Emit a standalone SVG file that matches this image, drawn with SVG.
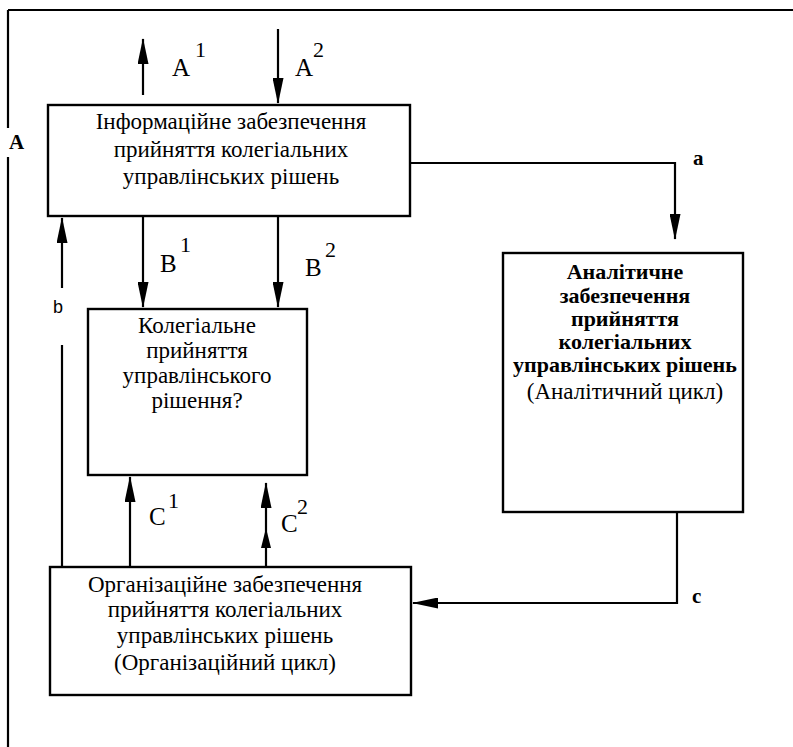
<svg xmlns="http://www.w3.org/2000/svg" width="793" height="747" viewBox="0 0 793 747">
<style>
.box{fill:#fff;stroke:#000;stroke-width:2.4}
.ln{fill:none;stroke:#000;stroke-width:2.2}
.t{font-family:"Liberation Serif","Times New Roman",serif;font-size:23px;fill:#000;text-anchor:middle}
.tb{font-family:"Liberation Serif","Times New Roman",serif;font-size:22px;font-weight:bold;fill:#000;text-anchor:middle}
.lab{font-family:"Liberation Serif","Times New Roman",serif;font-size:25px;fill:#000}
.sup{font-family:"Liberation Serif","Times New Roman",serif;font-size:22px;fill:#000}
.bl{font-family:"Liberation Serif","Times New Roman",serif;font-size:21px;font-weight:bold;fill:#000}
.sl{font-family:"Liberation Sans",Arial,sans-serif;font-size:18px;fill:#000}
</style>
<defs>
<marker id="arr" viewBox="0 0 26 11" refX="25" refY="5.5" markerWidth="26" markerHeight="11" markerUnits="userSpaceOnUse" orient="auto">
<path d="M0,0 L26,5.5 L0,11 Z" fill="#000"/>
</marker>
</defs>
<g id="frame">
<path class="ln" d="M8,10 H793 M8,10 V128 M8,157 V747"/>
<text class="bl" x="9" y="149" font-size="18">A</text>
</g>
<g id="connectors">
<line class="ln" x1="143" y1="95" x2="143" y2="39" marker-end="url(#arr)"/>
<line class="ln" x1="278" y1="29" x2="278" y2="103" marker-end="url(#arr)"/>
<line class="ln" x1="143" y1="216" x2="143" y2="307" marker-end="url(#arr)"/>
<line class="ln" x1="278" y1="216" x2="278" y2="307" marker-end="url(#arr)"/>
<line class="ln" x1="62" y1="288" x2="62" y2="218" marker-end="url(#arr)"/>
<line class="ln" x1="62" y1="345" x2="62" y2="567"/>
<line class="ln" x1="130" y1="567" x2="130" y2="477" marker-end="url(#arr)"/>
<line class="ln" x1="266" y1="567" x2="266" y2="483" marker-end="url(#arr)"/>
<path d="M266,528 L271,548 L261,548 Z" fill="#000"/>
<path class="ln" d="M410,163 H675 V239" marker-end="url(#arr)"/>
<path class="ln" d="M677,512 V603 H413" marker-end="url(#arr)"/>
<text class="lab" x="172" y="76">A</text><text class="sup" x="195" y="57">1</text>
<text class="lab" x="295" y="76">A</text><text class="sup" x="313" y="57">2</text>
<text class="lab" x="160" y="272">B</text><text class="sup" x="180" y="252">1</text>
<text class="lab" x="305" y="276">B</text><text class="sup" x="325" y="257">2</text>
<text class="lab" x="149" y="525">C</text><text class="sup" x="168" y="508">1</text>
<text class="lab" x="281" y="532">C</text><text class="sup" x="297" y="514">2</text>
<text class="sl" x="53" y="313">b</text>
<text class="bl" x="693" y="165">a</text>
<text class="bl" x="692" y="603">c</text>
</g>
<g id="info">
<rect class="box" x="48" y="105" width="362" height="111"/>
<text class="t" x="231" y="129">Інформаційне забезпечення</text>
<text class="t" x="231" y="157">прийняття колегіальних</text>
<text class="t" x="231" y="184">управлінських рішень</text>
</g>
<g id="collegial">
<rect class="box" x="88" y="309" width="219" height="166"/>
<text class="t" x="197" y="333">Колегіальне</text>
<text class="t" x="197" y="358">прийняття</text>
<text class="t" x="197" y="383">управлінського</text>
<text class="t" x="197" y="408">рішення?</text>
</g>
<g id="analytic">
<rect class="box" x="503" y="253" width="240" height="259"/>
<text class="tb" x="625" y="279">Аналітичне</text>
<text class="tb" x="625" y="303">забезпечення</text>
<text class="tb" x="625" y="326">прийняття</text>
<text class="tb" x="625" y="349">колегіальних</text>
<text class="tb" x="625" y="372">управлінських рішень</text>
<text class="t" x="625" y="399" font-size="20">(Аналітичний цикл)</text>
</g>
<g id="org">
<rect class="box" x="50" y="567" width="361" height="128"/>
<text class="t" x="225" y="592">Організаційне забезпечення</text>
<text class="t" x="225" y="617">прийняття колегіальних</text>
<text class="t" x="225" y="643">управлінських рішень</text>
<text class="t" x="225" y="670">(Організаційний цикл)</text>
</g>
</svg>
